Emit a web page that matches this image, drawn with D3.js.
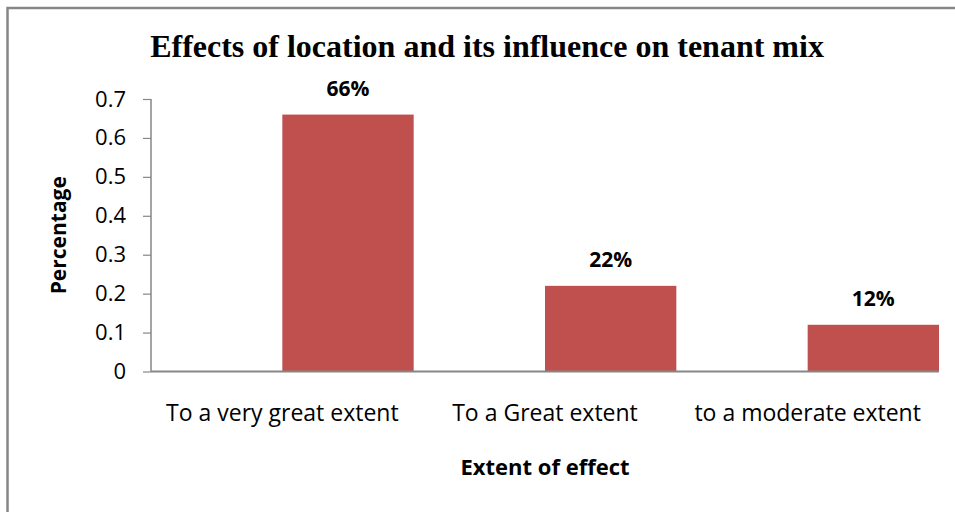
<!DOCTYPE html>
<html>
<head>
<meta charset="utf-8">
<script src="https://cdn.jsdelivr.net/npm/d3@7"></script>
<style>
  body { margin: 0; background: #fff; }
  svg { display: block; }
</style>
</head>
<body>
<div id="chart"></div>
<script>
"use strict";

// chart data
const categories = ["To a very great extent", "To a Great extent", "to a moderate extent"];
const series = ["blank", "value"]; // first series is empty, as in the source sheet
const values = [0.66, 0.22, 0.12];
const valueLabels = ["66%", "22%", "12%"];
const yTicks = [0, 0.1, 0.2, 0.3, 0.4, 0.5, 0.6, 0.7];

const sans = "'Open Sans', sans-serif";

const msm = {
    width: 955,
    height: 512,
    left: 151,
    right: 939,
    top: 99,
    bottom: 371.5
};

const svg = d3.select("#chart")
    .append("svg")
    .attr("width", msm.width)
    .attr("height", msm.height);

// outer frame (only top/left edges visible in the crop)
svg.append("rect")
    .attr("x", 7.5)
    .attr("y", 8)
    .attr("width", 1000)
    .attr("height", 600)
    .attr("fill", "none")
    .attr("stroke", "#878787")
    .attr("stroke-width", 2.5);

const xScale = d3.scaleBand()
    .domain(categories)
    .range([msm.left, msm.right])
    .padding(0);

const xSub = d3.scaleBand()
    .domain(series)
    .range([0, xScale.bandwidth()]);

const yScale = d3.scaleLinear()
    .domain([0, 0.7])
    .range([msm.bottom, msm.top]);

// bars
svg.selectAll(".bar")
    .data(values)
    .enter()
    .append("rect")
    .attr("class", "bar")
    .attr("x", (d, i) => xScale(categories[i]) + xSub("value"))
    .attr("width", xSub.bandwidth())
    .attr("y", d => yScale(d))
    .attr("height", d => msm.bottom - yScale(d))
    .attr("fill", "#C0504D");

// value labels
svg.selectAll(".vlabel")
    .data(values)
    .enter()
    .append("text")
    .attr("x", (d, i) => xScale(categories[i]) + xSub("value") + xSub.bandwidth() / 2)
    .attr("y", d => yScale(d) - 19)
    .attr("text-anchor", "middle")
    .style("font-family", sans)
    .style("font-weight", "bold")
    .style("font-size", "21px")
    .text((d, i) => valueLabels[i]);

// y axis
const yAxis = d3.axisLeft(yScale)
    .tickValues(yTicks)
    .tickFormat(d => d === 0 ? "0" : d3.format(".1f")(d))
    .tickSize(8)
    .tickPadding(17);
const gy = svg.append("g")
    .attr("transform", "translate(" + msm.left + ",0)")
    .call(yAxis);
gy.select(".domain").attr("stroke", "#868686").attr("stroke-width", 1.5)
    .attr("d", "M0," + msm.top + "V" + msm.bottom);
gy.selectAll(".tick line").attr("stroke", "#868686").attr("stroke-width", 1.2);
gy.selectAll(".tick text")
    .style("font-family", sans)
    .style("font-size", "22px")
    .attr("fill", "#000");

// x axis
const xAxis = d3.axisBottom(xScale)
    .tickSize(0)
    .tickPadding(33);
const gx = svg.append("g")
    .attr("transform", "translate(0," + msm.bottom + ")")
    .call(xAxis);
gx.select(".domain").attr("stroke", "#868686").attr("stroke-width", 2)
    .attr("d", "M" + msm.left + ",0H" + msm.right);
gx.selectAll(".tick text")
    .style("font-family", sans)
    .style("font-size", "23px")
    .attr("fill", "#000");

// title and axis labels
svg.append("text")
    .attr("x", 487)
    .attr("y", 57)
    .attr("text-anchor", "middle")
    .style("font-family", "'Liberation Serif', 'Times New Roman', serif")
    .style("font-weight", "bold")
    .style("font-size", "32px")
    .text("Effects of location and its influence on tenant mix");

svg.append("text")
    .attr("x", (msm.left + msm.right) / 2)
    .attr("y", 475)
    .attr("text-anchor", "middle")
    .style("font-family", sans)
    .style("font-weight", "bold")
    .style("font-size", "22px")
    .text("Extent of effect");

svg.append("text")
    .attr("transform", "translate(66," + (msm.top + msm.bottom) / 2 + ") rotate(-90)")
    .attr("text-anchor", "middle")
    .style("font-family", sans)
    .style("font-weight", "bold")
    .style("font-size", "21px")
    .text("Percentage");
</script>
</body>
</html>
